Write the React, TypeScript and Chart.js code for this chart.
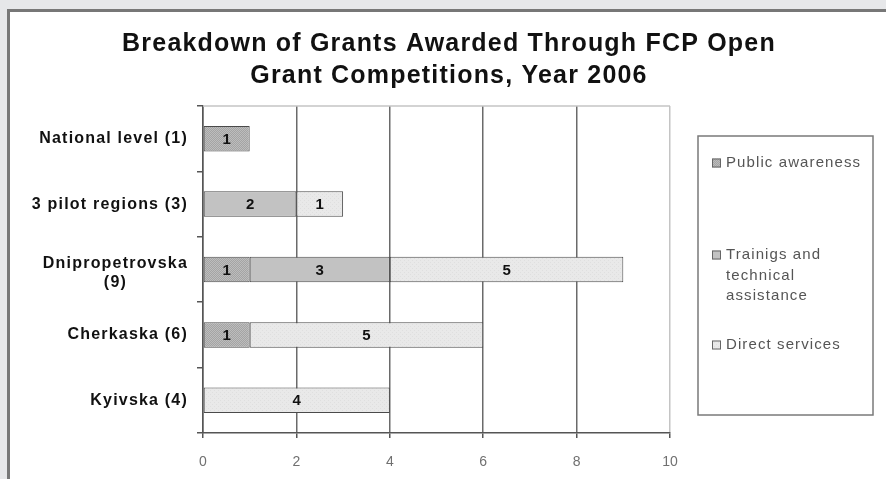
import { useEffect, useRef } from 'react';
import { Chart, registerables } from 'chart.js';

Chart.register(...registerables);

const titleLines = ['Breakdown of Grants Awarded Through FCP Open', 'Grant Competitions, Year 2006'];
const categories: string[][] = [
  ['National level (1)'],
  ['3 pilot regions (3)'],
  ['Dnipropetrovska', '(9)'],
  ['Cherkaska (6)'],
  ['Kyivska (4)'],
];
const seriesNames = ['Public awareness', 'Trainigs and technical assistance', 'Direct services'];
const publicAwareness: (number | null)[] = [1, null, 1, 1, null];
const trainings: (number | null)[] = [null, 2, 3, null, null];
const directServices: (number | null)[] = [null, 1, 5, 5, 4];
const xMin = 0;
const xMax = 10;
const xStep = 2;

const FONT = '"Liberation Sans", Arial, sans-serif';

function makePattern(base: string, dot: string, kind: 'checker' | 'dots' | 'plain') {
  const c = document.createElement('canvas');
  c.width = 4;
  c.height = 4;
  const g = c.getContext('2d')!;
  g.fillStyle = base;
  g.fillRect(0, 0, 4, 4);
  g.fillStyle = dot;
  if (kind === 'checker') {
    g.fillRect(0, 0, 1, 1);
    g.fillRect(2, 0, 1, 1);
    g.fillRect(1, 1, 1, 1);
    g.fillRect(3, 1, 1, 1);
    g.fillRect(0, 2, 1, 1);
    g.fillRect(2, 2, 1, 1);
    g.fillRect(1, 3, 1, 1);
    g.fillRect(3, 3, 1, 1);
  } else if (kind === 'dots') {
    g.fillRect(0, 0, 1, 1);
    g.fillRect(2, 2, 1, 1);
  }
  return g.createPattern(c, 'repeat')!;
}

export default function App() {
  const ref = useRef<HTMLCanvasElement>(null);

  useEffect(() => {
    document.body.style.margin = '0';
    const canvas = ref.current!;
    const fills = [
      makePattern('#a4a4a4', '#bdbdbd', 'checker'),
      makePattern('#c2c2c2', '#c8c8c8', 'plain'),
      makePattern('#e9e9e9', '#dfdfdf', 'dots'),
    ];
    const series = [publicAwareness, trainings, directServices];

    const titlePlugin = {
      id: 'customTitle',
      afterDraw(chart: any) {
        const ctx = chart.ctx as CanvasRenderingContext2D;
        ctx.save();
        ctx.fillStyle = '#111';
        ctx.font = `bold 25px ${FONT}`;
        (ctx as any).letterSpacing = '1.2px';
        ctx.textAlign = 'center';
        ctx.textBaseline = 'middle';
        titleLines.forEach((t, i) => ctx.fillText(t, 449, 44 + i * 32));
        ctx.restore();
      },
    };

    const framePlugin = {
      id: 'frame',
      beforeDatasetsDraw(chart: any) {
        const { ctx, chartArea } = chart;
        ctx.save();
        ctx.strokeStyle = '#c4c4c4';
        ctx.lineWidth = 1.5;
        ctx.beginPath();
        ctx.moveTo(chartArea.left, chartArea.top);
        ctx.lineTo(chartArea.right, chartArea.top);
        ctx.stroke();
        ctx.restore();
      },
    };

    const yLabelPlugin = {
      id: 'yLabels',
      afterDraw(chart: any) {
        const ctx = chart.ctx as CanvasRenderingContext2D;
        const yScale = chart.scales.y;
        ctx.save();
        ctx.fillStyle = '#111';
        ctx.font = `bold 16px ${FONT}`;
        (ctx as any).letterSpacing = '1.2px';
        ctx.textAlign = 'center';
        ctx.textBaseline = 'middle';
        const right = chart.chartArea.left - 15;
        const lh = 19;
        categories.forEach((lines, i) => {
          const y = yScale.getPixelForValue(i);
          const w = Math.max(...lines.map((l) => ctx.measureText(l).width));
          const cx = right - w / 2;
          const shift = lines.length > 1 ? 4 : 0;
          const y0 = y - ((lines.length - 1) * lh) / 2 + shift;
          lines.forEach((l, k) => ctx.fillText(l, cx, y0 + k * lh));
        });
        ctx.restore();
      },
    };

    const valuePlugin = {
      id: 'values',
      afterDatasetsDraw(chart: any) {
        const ctx = chart.ctx as CanvasRenderingContext2D;
        ctx.save();
        ctx.fillStyle = '#111';
        ctx.font = `bold 15px ${FONT}`;
        ctx.textAlign = 'center';
        ctx.textBaseline = 'middle';
        chart.data.datasets.forEach((ds: any, i: number) => {
          const meta = chart.getDatasetMeta(i);
          meta.data.forEach((el: any, j: number) => {
            const v = ds.data[j];
            if (v == null) return;
            const p = el.getProps(['x', 'y', 'base'], true);
            ctx.fillText(String(v), (p.x + p.base) / 2, p.y + 1);
          });
        });
        ctx.restore();
      },
    };

    const legendPlugin = {
      id: 'customLegend',
      afterDraw(chart: any) {
        const ctx = chart.ctx as CanvasRenderingContext2D;
        const ca = chart.chartArea;
        const left = ca.right + 28;
        const top = ca.top + 30;
        const w = 175;
        const h = 279;
        ctx.save();
        ctx.strokeStyle = '#7a7a7a';
        ctx.lineWidth = 1.5;
        ctx.strokeRect(left, top, w, h);
        ctx.font = `15px ${FONT}`;
        (ctx as any).letterSpacing = '1.1px';
        ctx.textBaseline = 'middle';
        ctx.textAlign = 'left';
        const itemTops = [27, 119, 209];
        const lh = 20.5;
        const maxW = 138;
        chart.data.datasets.forEach((ds: any, i: number) => {
          const words = String(ds.label).split(' ');
          const lines: string[] = [];
          let cur = '';
          words.forEach((wd) => {
            const t = cur ? cur + ' ' + wd : wd;
            if (cur && ctx.measureText(t).width > maxW) {
              lines.push(cur);
              cur = wd;
            } else cur = t;
          });
          if (cur) lines.push(cur);
          const y0 = top + itemTops[i];
          ctx.fillStyle = ds.backgroundColor;
          ctx.fillRect(left + 14, y0 - 4.5, 9, 9);
          ctx.strokeStyle = '#666';
          ctx.lineWidth = 1;
          ctx.strokeRect(left + 14.5, y0 - 4, 8, 8);
          ctx.fillStyle = '#555';
          lines.forEach((l, k) => ctx.fillText(l, left + 28, y0 + k * lh));
        });
        ctx.restore();
      },
    };

    const chart = new Chart(canvas, {
      type: 'bar',
      data: {
        labels: categories.map((c) => c.join(' ')),
        datasets: series.map((d, i) => ({
          label: seriesNames[i],
          data: d,
          backgroundColor: fills[i],
          borderColor: '#4a4a4a',
          borderWidth: 1,
          borderSkipped: false,
          categoryPercentage: 1,
          barPercentage: 0.39,
        })),
      },
      options: {
        indexAxis: 'y',
        animation: false,
        responsive: false,
        devicePixelRatio: 1,
        layout: { padding: { left: 0, right: 216, top: 106, bottom: 0 } },
        plugins: {
          legend: { display: false },
          title: { display: false },
          tooltip: { enabled: false },
        },
        scales: {
          x: {
            stacked: true,
            min: xMin,
            max: xMax,
            ticks: {
              stepSize: xStep,
              color: '#707070',
              font: { family: FONT, size: 14 },
              padding: 16,
            },
            grid: {
              color: (c: any) => (c.tick && c.tick.value === xMax ? '#c4c4c4' : '#6a6a6a'),
              lineWidth: 1.5,
              drawTicks: true,
              tickLength: 5,
              tickColor: '#555',
            },
            border: { color: '#555', width: 1.5 },
            afterFit: (s: any) => {
              s.height = 46;
            },
          },
          y: {
            stacked: true,
            ticks: { display: false },
            grid: {
              drawOnChartArea: false,
              drawTicks: true,
              tickLength: 6,
              color: '#555',
              lineWidth: 1.5,
            },
            border: { color: '#555', width: 1.5 },
            afterFit: (s: any) => {
              s.width = 203;
            },
          },
        },
      },
      plugins: [framePlugin, valuePlugin, yLabelPlugin, titlePlugin, legendPlugin],
    });
    return () => chart.destroy();
  }, []);

  return (
    <div style={{ position: 'relative', width: 886, height: 479, background: '#e6e7e9', overflow: 'hidden' }}>
      <div
        style={{
          position: 'absolute',
          left: 7,
          top: 9,
          right: 0,
          bottom: 0,
          background: '#ffffff',
          borderLeft: '3px solid #777',
          borderTop: '3px solid #777',
        }}
      />
      <canvas ref={ref} width={886} height={479} style={{ position: 'absolute', left: 0, top: 0 }} />
    </div>
  );
}
